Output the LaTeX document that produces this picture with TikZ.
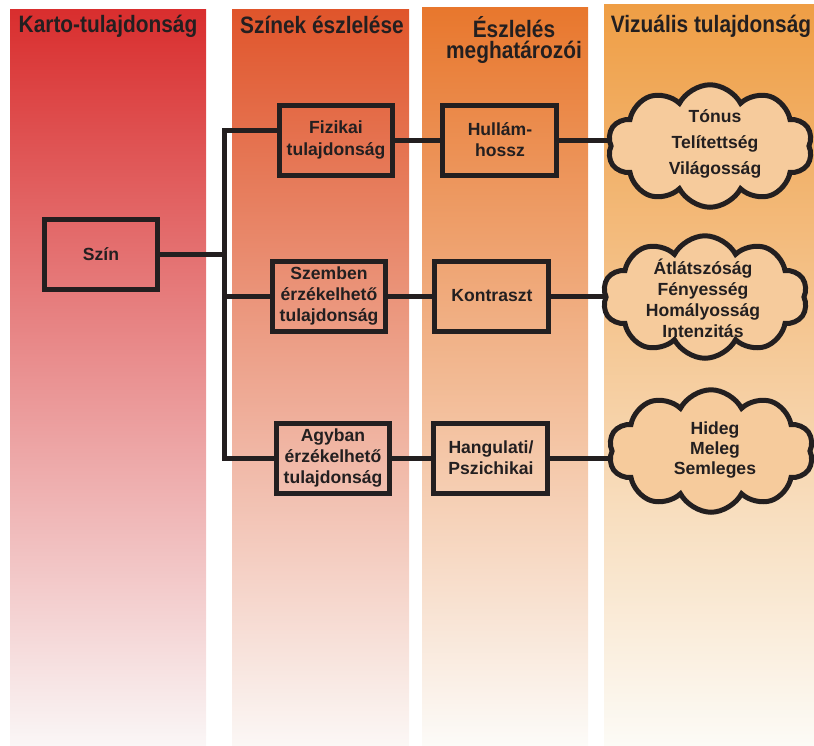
\documentclass[tikz,border=0pt]{standalone}
\usepackage{fontspec}
\setmainfont{Liberation Sans}
\newfontfamily\headfont[FakeStretch=0.88]{Liberation Sans}
\usetikzlibrary{
positioning,
shapes.symbols,
backgrounds
}
\definecolor{ink}{HTML}{231F20}
\definecolor{redtop}{HTML}{D92E2E}
\definecolor{redbot}{HTML}{FAF6F6}
\definecolor{vermtop}{HTML}{E0552B}
\definecolor{vermbot}{HTML}{FBF7F5}
\definecolor{orangetop}{HTML}{E8772D}
\definecolor{orangebot}{HTML}{FCFBF8}
\definecolor{ambertop}{HTML}{EF9E45}
\definecolor{amberbot}{HTML}{FCFBF6}
\definecolor{cloudfill}{HTML}{F6CB9C}

\begin{document}
\begin{tikzpicture}[
x=0.02cm, y=-0.02cm,
box/.style={
rectangle,
draw=ink,
line width=0.1cm,
minimum width=2.28cm,
minimum height=1.4cm,
inner sep=2pt,
align=center,
text=ink,
font=\bfseries\fontsize{10}{12}\selectfont
},
bubble/.style={
cloud,
cloud puffs=10,
cloud puff arc=125,
aspect=1.65,
draw=ink,
fill=cloudfill,
line width=0.1cm,
minimum width=4.1cm,
minimum height=2.45cm,
inner sep=0pt
},
cloudtext/.style={align=center, text=ink},
heading/.style={
align=center,
text=ink,
font=\headfont\bfseries\fontsize{13.5}{12}\selectfont
},
link/.style={draw=ink, line width=0.1cm}
]

\useasboundingbox (0,0) rectangle (814,745);
\clip (0,0) rectangle (814,745);

% column headings
\node[heading, anchor=base] (h1) at (108,32) {Karto-tulajdonság};
\node[heading, anchor=base] (h2) at (322,33) {Színek észlelése};
\node[heading] (h3) at (514,40) {Észlelés\\meghatározói};
\node[heading, anchor=base] (h4) at (711,32) {Vizuális tulajdonság};

% boxes
\node[box] (szin) at (101,254) {Szín};

\node[box] (fiz) at (336,140) {Fizikai\\tulajdonság};
\node[box] (szem) at (329,296) {Szemben\\érzékelhető\\tulajdonság};
\node[box] (agy) at (333,458) {Agyban\\érzékelhető\\tulajdonság};

\node[box, right=0.9cm of fiz] (hull) {Hullám-\\hossz};
\node[box, right=0.88cm of szem] (kontr) {Kontraszt};
\node[box, right=0.78cm of agy] (hang) {Hangulati/\\Pszichikai};

% clouds
\node[bubble] (cl1) at (710,146) {};
\node[bubble] (cl2) at (705,297) {};
\node[bubble] (cl3) at (711,451) {};

\node[cloudtext, font=\bfseries\fontsize{10}{14.7}\selectfont] (t1) at (715,144)
{Tónus\\Telítettség\\Világosság};
\node[cloudtext, font=\bfseries\fontsize{10}{12}\selectfont] (t2) at (703,298)
{Átlátszóság\\Fényesség\\Homályosság\\Intenzitás};
\node[cloudtext, font=\bfseries\fontsize{10}{11.3}\selectfont] (t3) at (715,450)
{Hideg\\Meleg\\Semleges};

\coordinate (jtop) at (224,130);
\coordinate (jbot) at (224,458);

\begin{scope}[on background layer]
% colour strips
\shade[top color=redtop, bottom color=redbot] (10,9) rectangle (206,745);
\shade[top color=vermtop, bottom color=vermbot] (232,9) rectangle (409,745);
\shade[top color=orangetop, bottom color=orangebot] (422,7) rectangle (588,745);
\shade[top color=ambertop, bottom color=amberbot] (604,4) rectangle (814,745);

% connectors
\draw[link] (szin) -- (szin -| jtop);
\draw[link] (fiz.west |- jtop) -- (jtop) -- (jbot) -- (agy.west |- jbot);
\draw[link] (szem) -- (szem -| jtop);

\draw[link] (fiz) -- (hull);
\draw[link] (szem) -- (kontr);
\draw[link] (agy) -- (hang);

\draw[link] (hull) -- (hull -| cl1.center);
\draw[link] (kontr) -- (kontr -| cl2.center);
\draw[link] (hang) -- (hang -| cl3.center);
\end{scope}

\end{tikzpicture}
\end{document}
